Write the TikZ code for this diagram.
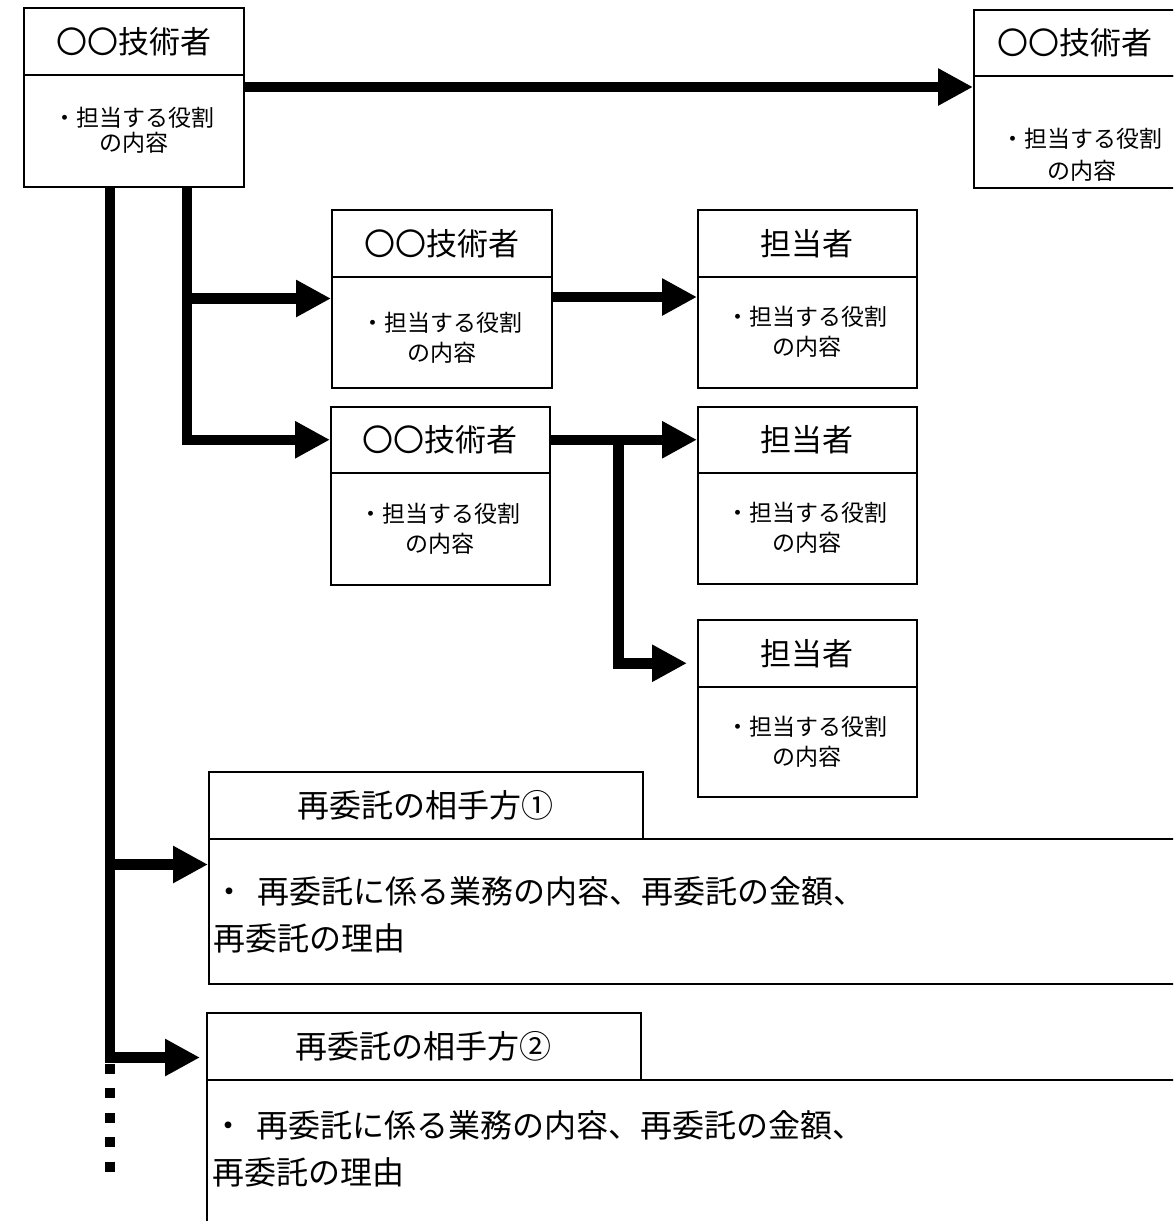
\documentclass[tikz,border=0pt]{standalone}
\usepackage{fontspec}
\newfontfamily\jp{Noto Sans CJK JP}
\usetikzlibrary{arrows.meta,calc}
\tikzset{
  box/.style={draw, line width=1.5pt, inner sep=0pt, anchor=north west, align=center},
  ttl/.style={box, font=\jp\fontsize{31}{36}\selectfont},
  bdy/.style={box, font=\jp\fontsize{23}{30}\selectfont},
  bdytxt/.style={inner sep=0pt, align=center, font=\jp\fontsize{23}{32}\selectfont},
  longtxt/.style={inner sep=0pt, align=left, anchor=north west, font=\jp\fontsize{32}{47}\selectfont},
  conn/.style={line width=10.5pt, line join=miter, -{Triangle[length=35pt,width=35pt]}},
  trunk/.style={line width=10.5pt},
  dotline/.style={line width=10.5pt, dash pattern=on 10pt off 14.5pt},
}
\begin{document}
\begin{tikzpicture}[x=1pt,y=-1pt]
\useasboundingbox (0,0) rectangle (1173,1221);
\fill[white] (0,0) rectangle (1173,1221);
\clip (0,0) rectangle (1173,1221);

% top-left
\node[ttl, minimum width=220pt, minimum height=67pt] (t1) at (23,7) {〇〇技術者};
\node[bdy, minimum width=220pt, minimum height=112pt, font=\jp\fontsize{23}{25}\selectfont] (b1) at (23,74) {・担当する役割\\の内容};
% top-right
\node[ttl, minimum width=202pt, minimum height=66pt] (t2) at (973,9) {〇〇技術者};
\node[box, minimum width=218pt, minimum height=112pt] (b2) at (973,75) {};
\node[bdytxt] (b2txt) at (1082,155) {・担当する役割\\の内容};
% middle column
\node[ttl, minimum width=220pt, minimum height=67pt] (t3) at (331,209) {〇〇技術者};
\node[bdy, minimum width=220pt, minimum height=111pt] (b3) at (331,276) {\rule{0pt}{30pt}・担当する役割\\の内容};
\node[ttl, minimum width=219pt, minimum height=66pt] (t4) at (330,406) {〇〇技術者};
\node[bdy, minimum width=219pt, minimum height=112pt] (b4) at (330,472) {・担当する役割\\の内容};
% right column
\node[ttl, minimum width=219pt, minimum height=67pt] (t5) at (697,209) {担当者};
\node[bdy, minimum width=219pt, minimum height=111pt] (b5) at (697,276) {・担当する役割\\の内容};
\node[ttl, minimum width=219pt, minimum height=66pt] (t6) at (697,406) {担当者};
\node[bdy, minimum width=219pt, minimum height=111pt] (b6) at (697,472) {・担当する役割\\の内容};
\node[ttl, minimum width=219pt, minimum height=67pt] (t7) at (697,619) {担当者};
\node[bdy, minimum width=219pt, minimum height=110pt] (b7) at (697,686) {・担当する役割\\の内容};
% subcontractors
\node[ttl, minimum width=434pt, minimum height=67pt, font=\jp\fontsize{32}{36}\selectfont] (t8) at (208,771) {再委託の相手方①};
\node[box, minimum width=1000pt, minimum height=145pt] (b8) at (208,838) {};
\node[longtxt] (b8txt) at (213,876) {・\hspace{0.4em}再委託に係る業務の内容、再委託の金額、\\再委託の理由};
\node[ttl, minimum width=434pt, minimum height=67pt, font=\jp\fontsize{32}{36}\selectfont] (t9) at (206,1012) {再委託の相手方②};
\node[box, minimum width=1000pt, minimum height=220pt] (b9) at (206,1079) {};
\node[longtxt] (b9txt) at (212,1110) {・\hspace{0.4em}再委託に係る業務の内容、再委託の金額、\\再委託の理由};

% connectors
\draw[conn] ($(b1.north east)+(0,13)$) -- ($(b2.north west)+(0,12)$);

\coordinate (v1top) at ($(b1.south west)+(87,0)$);
\coordinate (j1) at ($(v1top)+(0,677)$);
\coordinate (j2) at ($(v1top)+(0,870)$);
\coordinate (v1end) at ($(v1top)+(0,875)$);
\draw[trunk] (v1top) -- (v1end);
\draw[dotline] ($(v1end)+(0,1)$) -- ++(0,111);
\draw[conn] (j1) -- (j1 -| b8.west);
\draw[conn] (j2) -- ($(j2 -| t9.west)+(-6,0)$);

\coordinate (v2top) at ($(b1.south west)+(164,0)$);
\coordinate (j3) at ($(v2top)+(0,111)$);
\draw[conn] (v2top) |- (t4.west);
\draw[conn] (j3) -- (j3 -| b3.west);

\coordinate (j4) at ($(b3.north east)+(0,21)$);
\draw[conn] (j4) -- (j4 -| b5.west);
\draw[conn] (t4.east) -- (t6.west);
\coordinate (j5) at ($(t4.east)+(68,0)$);
\draw[conn] (j5) |- ($(t7.west)+(-10,10)$);
\end{tikzpicture}
\end{document}
